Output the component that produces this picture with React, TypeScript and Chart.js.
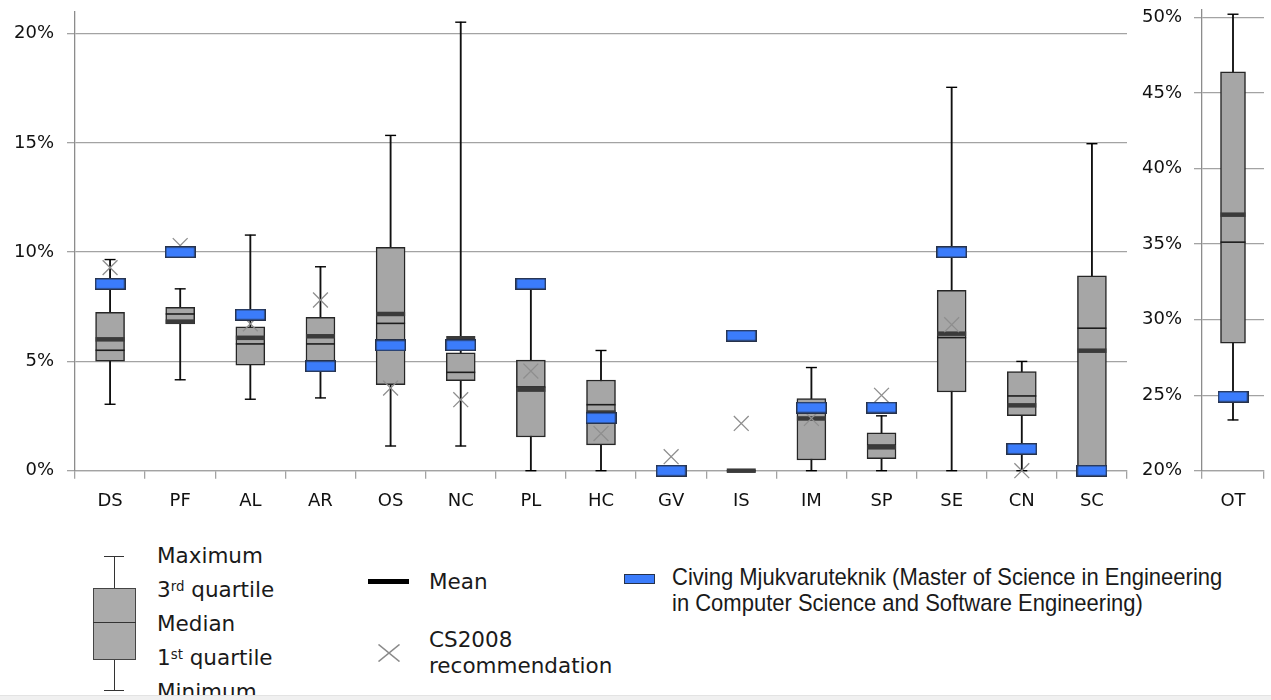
import React, { useEffect, useRef } from 'react';
import { Chart, registerables } from 'chart.js';

Chart.register(...registerables);

// ---------- data (percent of curriculum) ----------
const categories = ['DS', 'PF', 'AL', 'AR', 'OS', 'NC', 'PL', 'HC', 'GV', 'IS', 'IM', 'SP', 'SE', 'CN', 'SC'];
const maxValues = [9.66, 8.32, 10.78, 9.33, 15.34, 20.52, 8.4, 5.5, 0, 0, 4.72, 2.51, 17.54, 5.0, 14.96];
const q3Values = [7.24, 7.47, 6.58, 7.02, 10.22, 5.39, 5.06, 4.15, 0, 0, 3.3, 1.73, 8.25, 4.54, 8.92];
const medianValues = [5.51, 7.17, 5.8, 5.8, 6.74, 4.5, 3.83, 3.02, 0, 0, 2.95, 1.17, 6.09, 3.42, 6.52];
const meanValues = [6.01, 6.82, 6.08, 6.15, 7.17, 6.06, 3.71, 2.66, 0, 0, 2.39, 1.07, 6.27, 2.99, 5.49];
const q1Values = [5.01, 6.72, 4.83, 5.01, 3.94, 4.12, 1.54, 1.18, 0, 0, 0.49, 0.55, 3.6, 2.52, 0];
const minValues = [3.04, 4.16, 3.27, 3.33, 1.13, 1.13, 0, 0, 0, 0, 0, 0, 0, 0, 0];
const programValues = [8.55, 10.0, 7.14, 4.78, 5.73, 5.74, 8.55, 2.41, 0, 6.18, 2.89, 2.89, 10.0, 1.0, 0];
const cs2008Values: (number | null)[] = [9.29, 10.3, 6.72, 7.81, 3.78, 3.25, 4.56, 1.7, 0.64, 2.16, 2.39, 3.45, 6.68, 0, null];
const leftTicks = [0, 5, 10, 15, 20];

const otCategories = ['OT'];
const otMax = [50.22];
const otQ3 = [46.4];
const otMedian = [35.13];
const otMean = [36.95];
const otQ1 = [28.44];
const otMin = [23.36];
const otProgram = [24.9];
const otCs2008: (number | null)[] = [null];
const rightTicks = [20, 25, 30, 35, 40, 45, 50];

const FONT = 'DejaVu Sans';
const GRID = '#a3a3a3';

function makeBlue(w: number, h: number) {
  const c = document.createElement('canvas');
  c.width = w;
  c.height = h;
  const ctx = c.getContext('2d')!;
  ctx.fillStyle = '#3b7cfb';
  ctx.fillRect(1, 1, w - 2, h - 2);
  ctx.strokeStyle = '#27324a';
  ctx.lineWidth = 1.5;
  ctx.strokeRect(0.75, 0.75, w - 1.5, h - 1.5);
  return c;
}

type Series = {
  labels: string[];
  mx: number[]; q3: number[]; med: number[]; mean: number[]; q1: number[]; mn: number[];
  prog: number[]; rec: (number | null)[];
};

function buildConfig(s: Series, o: {
  min: number; max: number; ticks: number[]; axisW: number; boxW: number;
  padTop: number; padRight: number; labelPad: number; blue: HTMLCanvasElement;
}): any {
  const boxes = s.labels.map((_, i) => [s.q1[i], s.q3[i]]);
  const whiskers = s.labels.map((_, i) => [s.mn[i], s.mx[i]]);
  const half = o.boxW / 2;
  const pt = (extra: any) => ({ type: 'line', showLine: false, clip: false, borderWidth: 0, ...extra });
  return {
    type: 'bar',
    data: {
      labels: s.labels,
      datasets: [
        pt({ label: 'Programme', data: s.prog, pointStyle: o.blue, pointRadius: 8, order: 0 }),
        pt({ label: 'CS2008', data: s.rec, pointStyle: 'crossRot', pointRadius: 10.5, pointBorderColor: '#8e8e8e', pointBackgroundColor: 'rgba(0,0,0,0)', pointBorderWidth: 1.3, order: 1 }),
        pt({ label: 'Mean', data: s.mean, pointStyle: 'line', pointRadius: half, pointBorderColor: '#3a3a3a', pointBorderWidth: 4.5, order: 2 }),
        pt({ label: 'Median', data: s.med, pointStyle: 'line', pointRadius: half, pointBorderColor: '#1c1c1c', pointBorderWidth: 1.6, order: 3 }),
        { type: 'bar', label: 'Box', data: boxes, backgroundColor: '#a6a6a6', borderColor: '#262626', borderWidth: 1.5, borderSkipped: false, barThickness: o.boxW, grouped: false, order: 4, clip: false },
        pt({ label: 'MaxCap', data: s.mx, pointStyle: 'line', pointRadius: 5.5, pointBorderColor: '#000', pointBorderWidth: 1.4, order: 5 }),
        pt({ label: 'MinCap', data: s.mn, pointStyle: 'line', pointRadius: 5.5, pointBorderColor: '#000', pointBorderWidth: 1.4, order: 5 }),
        { type: 'bar', label: 'Whisker', data: whiskers, backgroundColor: '#111', borderWidth: 0, barThickness: 1.2, grouped: false, order: 6, clip: false },
      ],
    },
    options: {
      responsive: false,
      animation: false,
      events: [],
      layout: { autoPadding: false, padding: { top: o.padTop, right: o.padRight, left: 0, bottom: 0 } },
      plugins: { legend: { display: false }, tooltip: { enabled: false } },
      scales: {
        x: {
          type: 'category',
          offset: true,
          grid: { offset: true, drawOnChartArea: false, drawTicks: true, tickLength: 8, color: GRID, lineWidth: 1.3 },
          border: { display: true, color: GRID, width: 1.3 },
          ticks: { font: { family: FONT, size: 18 }, color: '#111', padding: 12, maxRotation: 0, autoSkip: false },
          afterFit: (sc: any) => { sc.height = 520 - 470.7; sc.paddingLeft = 0; sc.paddingRight = 0; },
        },
        y: {
          type: 'linear',
          min: o.min,
          max: o.max,
          afterBuildTicks: (sc: any) => { sc.ticks = o.ticks.map((v) => ({ value: v })); },
          grid: { color: GRID, lineWidth: 1.3, tickLength: 8, drawTicks: true },
          border: { display: true, color: '#8c8c8c', width: 1.3 },
          ticks: { font: { family: FONT, size: 18 }, color: '#111', padding: o.labelPad, callback: (v: any) => v + '%' },
          afterFit: (sc: any) => { sc.width = o.axisW; sc.paddingTop = 0; sc.paddingBottom = 0; },
        },
      },
    },
  };
}

const abs = (l: number, t: number, extra: React.CSSProperties = {}): React.CSSProperties => ({
  position: 'absolute', left: l, top: t, ...extra,
});

const legendFont = 21.5;
const lt = (cy: number) => cy - legendFont / 2;
const textStyle: React.CSSProperties = {
  fontFamily: FONT, fontSize: legendFont, lineHeight: legendFont + 'px', color: '#1a1a1a', whiteSpace: 'nowrap',
};
const supStyle: React.CSSProperties = { fontSize: '0.62em', position: 'relative', top: '-0.5em', verticalAlign: 'baseline' };
const civFont = 22;
const civStyle: React.CSSProperties = {
  fontFamily: 'Liberation Sans', fontSize: civFont, lineHeight: civFont + 'px', color: '#1a1a1a', whiteSpace: 'nowrap',
  transform: 'scaleY(1.08)', transformOrigin: '0 50%',
};

export default function App() {
  const leftRef = useRef<HTMLCanvasElement>(null);
  const rightRef = useRef<HTMLCanvasElement>(null);

  useEffect(() => {
    const blue = makeBlue(31, 12);
    const left = new Chart(leftRef.current!, buildConfig(
      { labels: categories, mx: maxValues, q3: q3Values, med: medianValues, mean: meanValues, q1: q1Values, mn: minValues, prog: programValues, rec: cs2008Values },
      { min: 0, max: 21, ticks: leftTicks, axisW: 75, boxW: 29, padTop: 11.7, padRight: 8, labelPad: 13, blue },
    ));
    const right = new Chart(rightRef.current!, buildConfig(
      { labels: otCategories, mx: otMax, q3: otQ3, med: otMedian, mean: otMean, q1: otQ1, mn: otMin, prog: otProgram, rec: otCs2008 },
      { min: 20, max: 50.5, ticks: rightTicks, axisW: 72, boxW: 25, padTop: 10, padRight: 7, labelPad: 12, blue },
    ));
    return () => { left.destroy(); right.destroy(); };
  }, []);

  return (
    <div style={{ position: 'absolute', left: 0, top: 0, width: 1271, height: 700, overflow: 'hidden', background: '#fff' }}>
      <canvas ref={leftRef} width={1135} height={520} style={abs(0, 0)} />
      <canvas ref={rightRef} width={141} height={520} style={abs(1130, 0)} />

      {/* box-plot key */}
      <div style={abs(113.5, 556, { width: 1.5, height: 134, background: '#333' })} />
      <div style={abs(104, 555.5, { width: 20, height: 1.5, background: '#333' })} />
      <div style={abs(104, 689.5, { width: 20, height: 1.5, background: '#333' })} />
      <div style={abs(93, 588, { width: 43, height: 72, background: '#ababab', border: '1.5px solid #444', boxSizing: 'border-box' })} />
      <div style={abs(93, 621.5, { width: 43, height: 1.5, background: '#333' })} />
      <div style={abs(157, lt(556), textStyle)}>Maximum</div>
      <div style={abs(157, lt(590), textStyle)}>3<span style={supStyle}>rd</span> quartile</div>
      <div style={abs(157, lt(624), textStyle)}>Median</div>
      <div style={abs(157, lt(658), textStyle)}>1<span style={supStyle}>st</span> quartile</div>
      <div style={abs(157, lt(692), textStyle)}>Minimum</div>

      {/* mean key */}
      <div style={abs(368, 578.5, { width: 41, height: 5, background: '#000' })} />
      <div style={abs(429, lt(582), textStyle)}>Mean</div>

      {/* CS2008 key */}
      <svg style={abs(377.5, 643.5)} width={22} height={18}>
        <line x1={0.5} y1={0.5} x2={21.5} y2={17.5} stroke="#8a8a8a" strokeWidth={1.6} />
        <line x1={21.5} y1={0.5} x2={0.5} y2={17.5} stroke="#8a8a8a" strokeWidth={1.6} />
      </svg>
      <div style={abs(429, lt(639.5), textStyle)}>CS2008</div>
      <div style={abs(429, lt(665.5), textStyle)}>recommendation</div>

      {/* programme key */}
      <div style={abs(624, 574, { width: 31, height: 10, background: '#3b7cfb', border: '1.2px solid #27324a', boxSizing: 'border-box' })} />
      <div style={abs(672, 577 - civFont / 2, civStyle)}>Civing Mjukvaruteknik (Master of Science in Engineering</div>
      <div style={abs(672, 603 - civFont / 2, civStyle)}>in Computer Science and Software Engineering)</div>

      <div style={abs(0, 695, { width: 1271, height: 5, background: '#f0f0f0', borderTop: '1px solid #e3e3e3', zIndex: 5 })} />
    </div>
  );
}
